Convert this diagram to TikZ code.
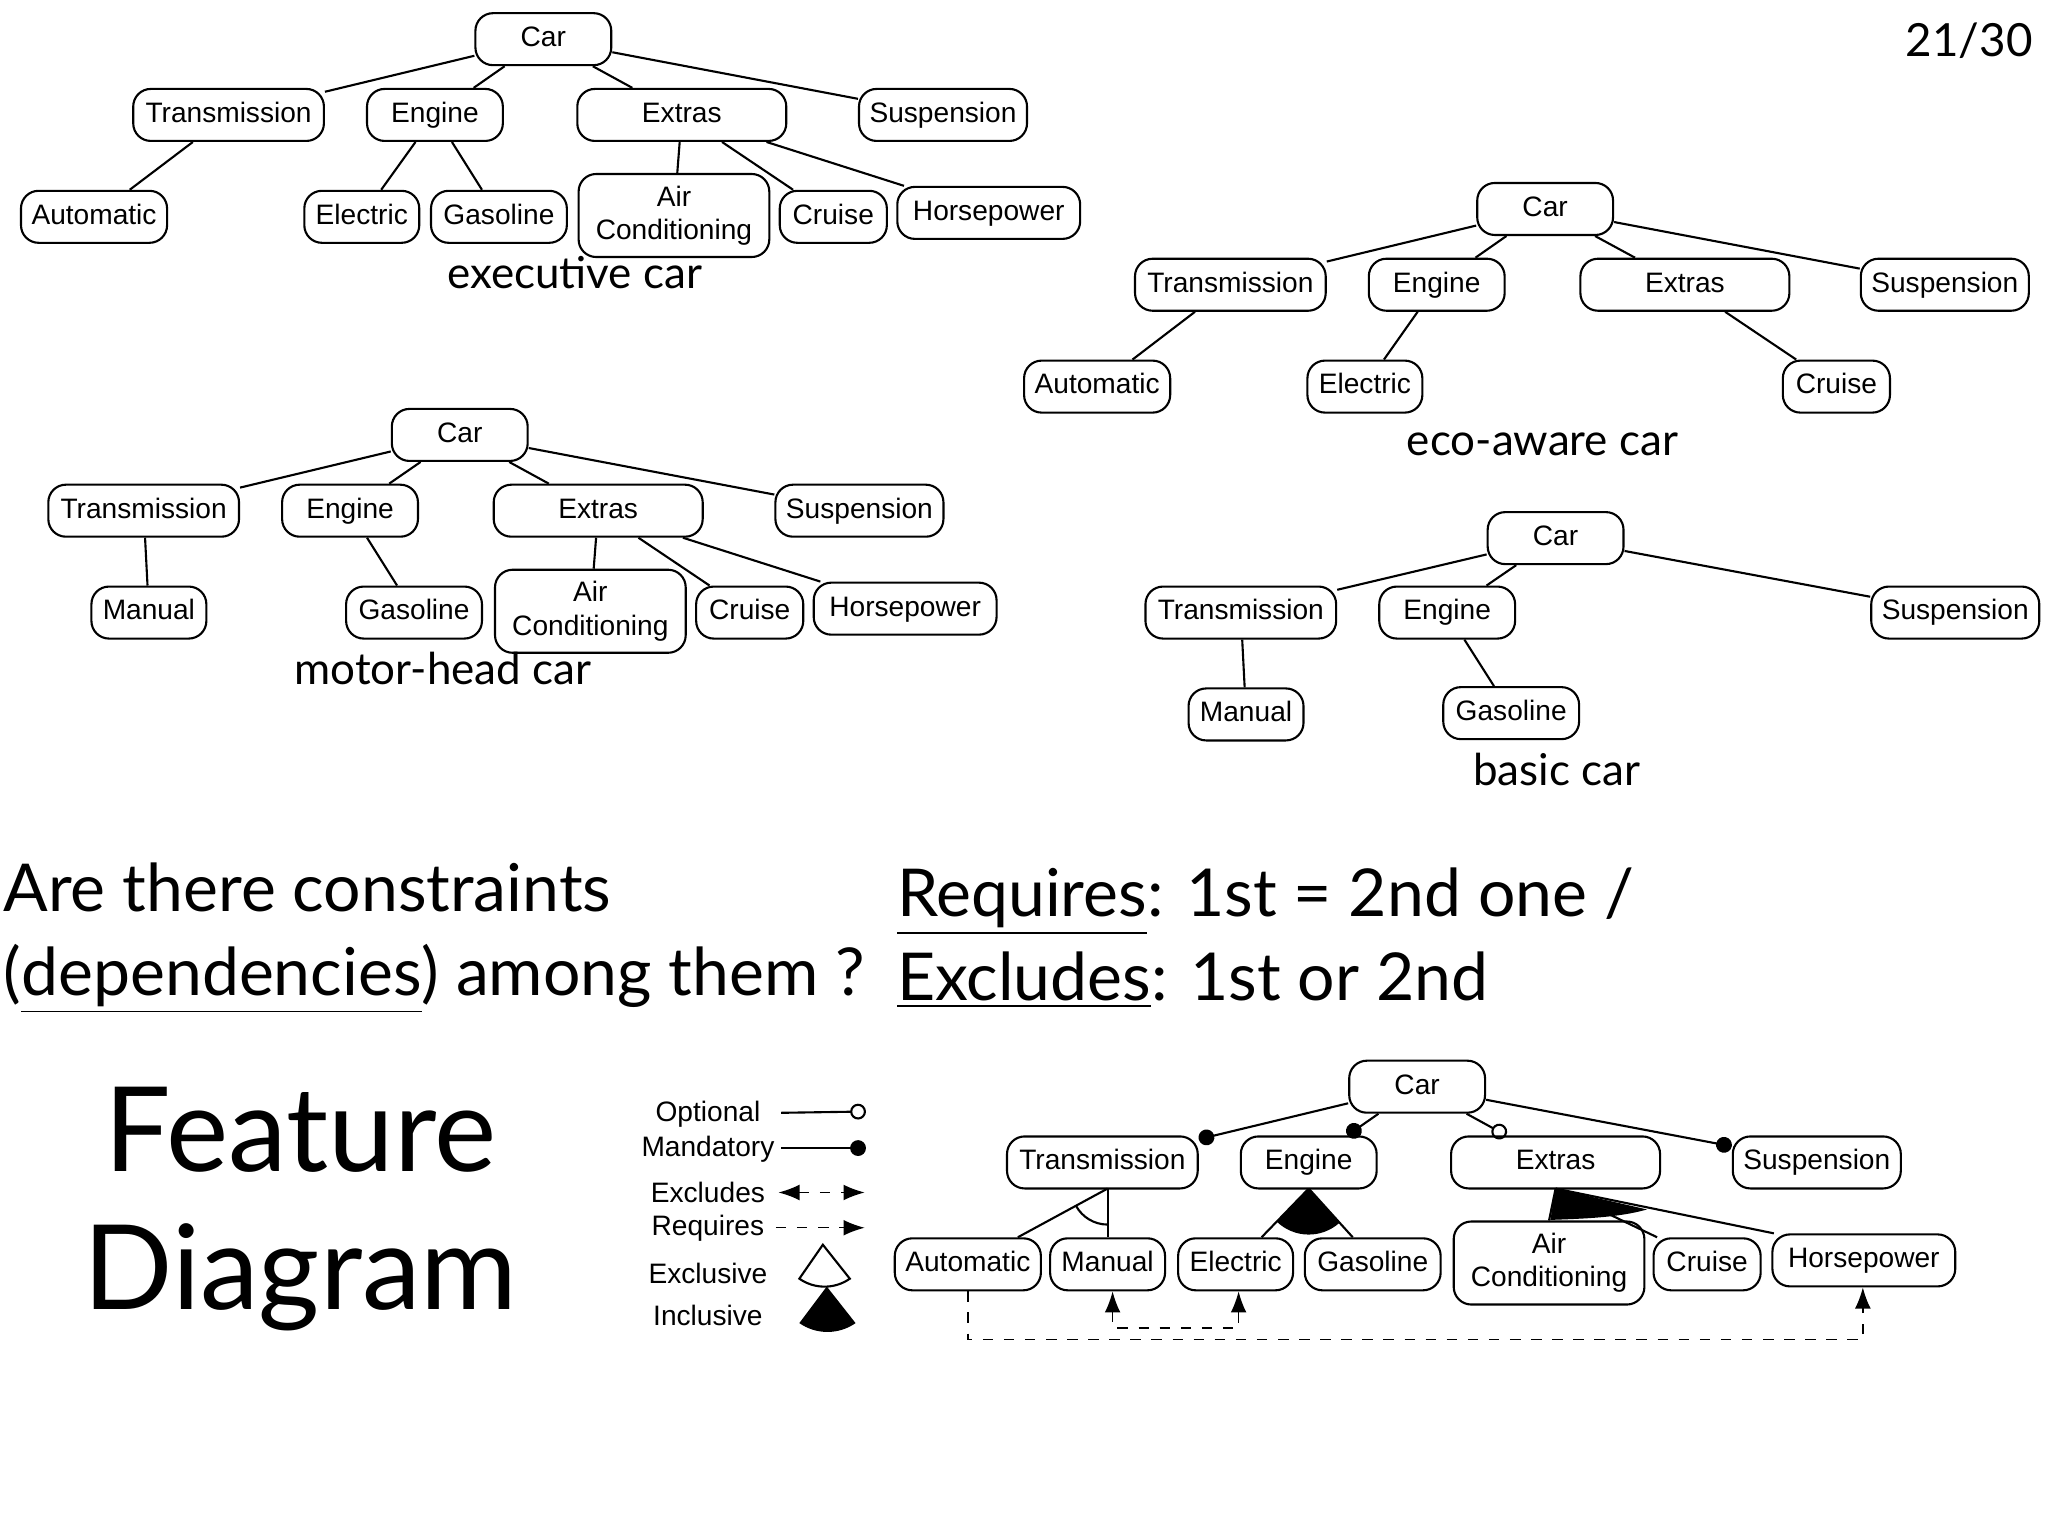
\documentclass[tikz,border=0pt]{standalone}
\usepackage{fontspec}
\setmainfont{Lato}
\newfontfamily\boxfont{Liberation Sans}
\usetikzlibrary{arrows.meta,calc}
\tikzset{
  featbox/.style={draw,rounded corners=5pt,font=\boxfont\fontsize{8}{9.5}\selectfont,
    minimum width={#1*0.01306cm},minimum height=0.52cm,inner xsep=3pt,align=center},
  feat/.style={featbox=#1,text height=6pt,text depth=1.8pt},
  feat/.default=0,
  treename/.style={font=\fontsize{12.5}{14}\selectfont},
  big/.style={font=\fontsize{18.8}{22}\selectfont,anchor=base west,inner sep=0pt},
  leg/.style={font=\boxfont\fontsize{8}{9}\selectfont},
  opt/.style={-{Circle[open,length=4.5pt]}},
  mand/.style={-{Circle[length=4.5pt]}},
  dep/.style={dashed,thin}
}
\begin{document}
\begin{tikzpicture}[x=0.01306cm,y=-0.01306cm,line width=0.6pt]
  \useasboundingbox (0,0) rectangle (1568,1176);
  \node[font=\fontsize{13}{15}\selectfont,anchor=north east] (page) at (1566,8) {21/30};
  % executive car
  \node[feat=104] (ec) at (416,30) {Car};
  \node[feat=146] (et) at (175,88) {Transmission};
  \node[feat=104] (ee) at (333,88) {Engine};
  \node[feat=160] (ex) at (522,88) {Extras};
  \node[feat=128] (es) at (722,88) {Suspension};
  \node[feat=110] (eau) at (72,166) {Automatic};
  \node[feat=88] (eel) at (277,166) {Electric};
  \node[feat=104] (ega) at (382,166) {Gasoline};
  \node[featbox=146] (eac) at (516,165) {Air\\Conditioning};
  \node[feat=82] (ecr) at (638,166) {Cruise};
  \node[feat=140] (ehp) at (757,163) {Horsepower};
  \node[treename] (ecap) at (440,209) {executive car};
  \draw (ec) -- (et); \draw (ec) -- (ee); \draw (ec) -- (ex); \draw (ec) -- (es);
  \draw (et) -- (eau); \draw (ee) -- (eel); \draw (ee) -- (ega);
  \draw (ex) -- (eac); \draw (ex) -- (ecr); \draw (ex) -- (ehp);
  % eco-aware car
  \node[feat=104] (ac) at (1183,160) {Car};
  \node[feat=146] (at) at (942,218) {Transmission};
  \node[feat=104] (ae) at (1100,218) {Engine};
  \node[feat=160] (ax) at (1290,218) {Extras};
  \node[feat=128] (as) at (1489,218) {Suspension};
  \node[feat=110] (aau) at (840,296) {Automatic};
  \node[feat=88] (ael) at (1045,296) {Electric};
  \node[feat=82] (acr) at (1406,296) {Cruise};
  \node[treename] (acap) at (1181,340) {eco-aware car};
  \draw (ac) -- (at); \draw (ac) -- (ae); \draw (ac) -- (ax); \draw (ac) -- (as);
  \draw (at) -- (aau); \draw (ae) -- (ael); \draw (ax) -- (acr);
  % motor-head car
  \node[feat=104] (mc) at (352,333) {Car};
  \node[feat=146] (mt) at (110,391) {Transmission};
  \node[feat=104] (me) at (268,391) {Engine};
  \node[feat=160] (mx) at (458,391) {Extras};
  \node[feat=128] (ms) at (658,391) {Suspension};
  \node[feat=88] (mma) at (114,469) {Manual};
  \node[feat=104] (mga) at (317,469) {Gasoline};
  \node[featbox=146] (mac) at (452,468) {Air\\Conditioning};
  \node[feat=82] (mcr) at (574,469) {Cruise};
  \node[feat=140] (mhp) at (693,466) {Horsepower};
  \node[treename] (mcap) at (339,512) {motor-head car};
  \draw (mc) -- (mt); \draw (mc) -- (me); \draw (mc) -- (mx); \draw (mc) -- (ms);
  \draw (mt) -- (mma); \draw (me) -- (mga);
  \draw (mx) -- (mac); \draw (mx) -- (mcr); \draw (mx) -- (mhp);
  % basic car
  \node[feat=104] (bc) at (1191,412) {Car};
  \node[feat=146] (bt) at (950,469) {Transmission};
  \node[feat=104] (be) at (1108,469) {Engine};
  \node[feat=128] (bs) at (1497,469) {Suspension};
  \node[feat=88] (bma) at (954,547) {Manual};
  \node[feat=104] (bga) at (1157,546) {Gasoline};
  \node[treename] (bcap) at (1192,589) {basic car};
  \draw (bc) -- (bt); \draw (bc) -- (be); \draw (bc) -- (bs);
  \draw (bt) -- (bma); \draw (be) -- (bga);
  % questions
  \node[big] (q1) at (2,698) {Are there constraints};
  \node[big] (q2) at (2,762) {(\underline{dependencies}) among them ?};
  \node[big] (r1) at (686,702) {\underline{Requires}: 1st = 2nd one /};
  \node[big] (r2) at (686,766) {\underline{Excludes}: 1st or 2nd};
  \node[font=\fontsize{33.5}{38}\selectfont] (fd1) at (230,865) {Feature};
  \node[font=\fontsize{33.5}{38}\selectfont] (fd2) at (230,978) {Diagram};
  % legend
  \node[leg] (lo) at (542,853) {Optional};
  \node[leg] (lm) at (542,880) {Mandatory};
  \node[leg] (le) at (542,913) {Excludes};
  \node[leg] (lr) at (542,940) {Requires};
  \node[leg] (lx) at (542,975) {Exclusive};
  \node[leg] (li) at (542,1007) {Inclusive};
  \draw[opt] (598,852) -- (663,851);
  \draw[mand] (598,879) -- (663,879);
  \draw[dep,{Latex[length=6pt]}-{Latex[length=6pt]}] (596,913) -- (662,913);
  \draw[dep,-{Latex[length=6pt]}] (594,940) -- (662,940);
  \draw (630,953) -- (612,979) arc[start angle=235,end angle=305,radius=0.44cm] -- cycle;
  \fill (633,985) -- (612,1013) arc[start angle=235,end angle=305,radius=0.49cm] -- cycle;
  % feature diagram
  \node[feat=104] (fc) at (1085,832) {Car};
  \node[feat=146] (ft) at (844,890) {Transmission};
  \node[feat=104] (fe) at (1002,890) {Engine};
  \node[feat=160] (fx) at (1191,890) {Extras};
  \node[feat=128] (fs) at (1391,890) {Suspension};
  \node[feat=110] (fau) at (741,968) {Automatic};
  \node[feat=88] (fma) at (848,968) {Manual};
  \node[feat=88] (fel) at (946,968) {Electric};
  \node[feat=104] (fga) at (1051,968) {Gasoline};
  \node[featbox=146] (fac) at (1186,967) {Air\\Conditioning};
  \node[feat=82] (fcr) at (1307,968) {Cruise};
  \node[feat=140] (fhp) at (1427,965) {Horsepower};
  \draw[mand] (fc) -- (ft);
  \draw[mand] (fc) -- (fe);
  \draw[opt] (fc) -- (fx);
  \draw[mand] (fc) -- (fs);
  \coordinate (tap) at (848,910);
  \coordinate (eap) at (1002,910);
  \coordinate (xap) at (1191,910);
  \draw (tap) -- ([xshift=0.5cm]fau.north);
  \draw (tap) -- (fma.north);
  \draw (tap) ++(208.5:0.36cm) arc[start angle=208.5,end angle=270,radius=0.36cm];
  \draw (eap) -- ([xshift=0.26cm]fel.north);
  \draw (eap) -- ([xshift=-0.2cm]fga.north);
  \fill (eap) -- ++(225.8:0.46cm) arc[start angle=225.8,end angle=312.6,radius=0.46cm] -- cycle;
  \draw (xap) -- (fac.north);
  \draw (xap) -- ([xshift=-0.5cm]fcr.north);
  \draw (xap) -- ([xshift=-0.9cm]fhp.north);
  \fill (xap) -- (1187,934) .. controls (1215,933) and (1240,932) .. (1261,926) -- cycle;
  \draw[dep,-{Latex[length=6pt]}] (fau.south) -- ++(0,37) -| ([xshift=-0.01cm]fhp.south);
  \draw[dep,{Latex[length=6pt]}-{Latex[length=6pt]}] ([xshift=0.05cm]fma.south) -- ++(0,28) -| ([xshift=0.03cm]fel.south);
\end{tikzpicture}
\end{document}
